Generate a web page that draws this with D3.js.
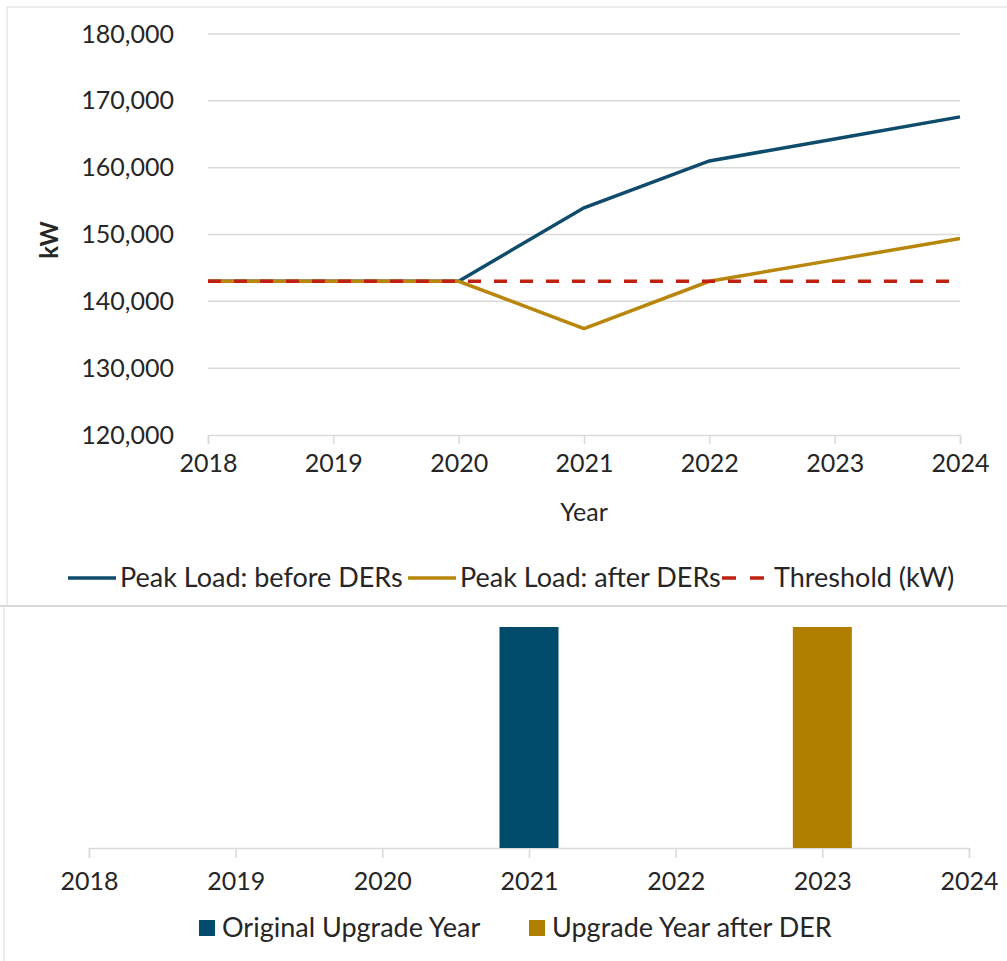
<!DOCTYPE html>
<html>
<head>
<meta charset="utf-8">
<script src="https://cdn.jsdelivr.net/npm/d3@7"></script>
<style>
  body { margin: 0; background: #fff; }
  text { font-family: Lato, "Open Sans", sans-serif; fill: #262626; }
</style>
</head>
<body>
<div id="chart"></div>
<script>
// data
var years = [2018, 2019, 2020, 2021, 2022, 2023, 2024];
var beforeDER = [143000, 143000, 143000, 154000, 161000, 164300, 167600];
var afterDER = [143000, 143000, 143000, 135900, 143000, 146200, 149400];
var threshold = [143000, 143000, 143000, 143000, 143000, 143000, 143000];
var yTicks = [120000, 130000, 140000, 150000, 160000, 170000, 180000];
var upgradeOriginal = [0, 0, 0, 1, 0, 0, 0];
var upgradeAfter = [0, 0, 0, 0, 0, 1, 0];

var width = 1007, height = 961;
var blue = '#0f4c6c', gold = '#b8860b', red = '#c0200f';
var barBlue = '#004b6b', barGold = '#b07f00';

var svg = d3.select('#chart').append('svg')
  .attr('width', width).attr('height', height);

// frame lines
svg.append('line').attr('x1', 7).attr('x2', 7).attr('y1', 7).attr('y2', 605)
  .attr('stroke', '#d9d9d9');
svg.append('line').attr('x1', 7).attr('x2', width).attr('y1', 7).attr('y2', 7)
  .attr('stroke', '#d9d9d9');
svg.append('line').attr('x1', 0).attr('x2', width).attr('y1', 606).attr('y2', 606)
  .attr('stroke', '#d9d9d9').attr('stroke-width', 2);
svg.append('line').attr('x1', 4).attr('x2', 4).attr('y1', 606).attr('y2', height)
  .attr('stroke', '#d9d9d9');

// ---- top line chart ----
var x = d3.scaleLinear().domain([2018, 2024]).range([208, 960]);
var y = d3.scaleLinear().domain([120000, 180000]).range([435, 34]);

// gridlines
svg.append('g').selectAll('line')
  .data(yTicks.slice(1))
  .enter().append('line')
  .attr('x1', 208).attr('x2', 960)
  .attr('y1', function(d) { return y(d); })
  .attr('y2', function(d) { return y(d); })
  .attr('stroke', '#d9d9d9').attr('stroke-width', 1.5);

var yAxis = svg.append('g')
  .attr('transform', 'translate(208,0)')
  .call(d3.axisLeft(y).tickValues(yTicks).tickSize(0).tickPadding(34)
    .tickFormat(d3.format(',')));
yAxis.select('.domain').remove();
yAxis.selectAll('text').style('font-size', '25px').attr('fill', '#262626');

var xAxis = svg.append('g')
  .attr('transform', 'translate(0,435)')
  .call(d3.axisBottom(x).tickValues(years).tickSize(9).tickPadding(10)
    .tickFormat(d3.format('d')));
xAxis.select('.domain').attr('stroke', '#d9d9d9').attr('stroke-width', 1.5);
xAxis.selectAll('line').attr('stroke', '#d9d9d9').attr('stroke-width', 1.5);
xAxis.selectAll('text').style('font-size', '25px').attr('fill', '#262626');

svg.append('text').attr('x', 584).attr('y', 521)
  .attr('text-anchor', 'middle').style('font-size', '25px').text('Year');
svg.append('text')
  .attr('transform', 'translate(58,240) rotate(-90)')
  .attr('text-anchor', 'middle').style('font-size', '24px')
  .style('font-weight', 'bold').text('kW');

var line = d3.line()
  .x(function(d, i) { return x(years[i]); })
  .y(function(d) { return y(d); });

svg.append('path').datum(beforeDER).attr('d', line)
  .attr('fill', 'none').attr('stroke', blue).attr('stroke-width', 3.5);
svg.append('path').datum(afterDER).attr('d', line)
  .attr('fill', 'none').attr('stroke', gold).attr('stroke-width', 3.5);
svg.append('path').datum(threshold).attr('d', line)
  .attr('fill', 'none').attr('stroke', red).attr('stroke-width', 3.5)
  .attr('stroke-dasharray', '13,13');

// legend top
var legend1 = [
  { label: 'Peak Load: before DERs', color: blue, dash: null, x: 68 },
  { label: 'Peak Load: after DERs', color: gold, dash: null, x: 408 },
  { label: 'Threshold (kW)', color: red, dash: '14,14', x: 722 }
];
var lg1 = svg.selectAll('.legend1').data(legend1).enter().append('g')
  .attr('class', 'legend1')
  .attr('transform', function(d) { return 'translate(' + d.x + ',578)'; });
lg1.append('line').attr('x1', 0).attr('x2', 48).attr('y1', 0).attr('y2', 0)
  .attr('stroke', function(d) { return d.color; }).attr('stroke-width', 3.5)
  .attr('stroke-dasharray', function(d) { return d.dash; });
lg1.append('text').attr('x', 52).attr('y', 9)
  .style('font-size', '27px').text(function(d) { return d.label; });

// ---- bottom bar chart ----
var xb = d3.scaleLinear().domain([2018, 2024]).range([89, 969]);
var yb = d3.scaleLinear().domain([0, 1]).range([848, 627]);
var barW = 59;

var xbAxis = svg.append('g')
  .attr('transform', 'translate(0,848)')
  .call(d3.axisBottom(xb).tickValues(years).tickSize(10).tickPadding(14)
    .tickFormat(d3.format('d')));
xbAxis.select('.domain').attr('stroke', '#d9d9d9').attr('stroke-width', 1.5);
xbAxis.selectAll('line').attr('stroke', '#d9d9d9').attr('stroke-width', 1.5);
xbAxis.selectAll('text').style('font-size', '25px').attr('fill', '#262626');

svg.append('g').selectAll('rect')
  .data(upgradeOriginal).enter().append('rect')
  .attr('x', function(d, i) { return xb(years[i]) - barW / 2; })
  .attr('y', function(d) { return yb(d); })
  .attr('width', barW)
  .attr('height', function(d) { return yb(0) - yb(d); })
  .attr('fill', barBlue);
svg.append('g').selectAll('rect')
  .data(upgradeAfter).enter().append('rect')
  .attr('x', function(d, i) { return xb(years[i]) - barW / 2; })
  .attr('y', function(d) { return yb(d); })
  .attr('width', barW)
  .attr('height', function(d) { return yb(0) - yb(d); })
  .attr('fill', barGold);

var legend2 = [
  { label: 'Original Upgrade Year', color: barBlue, x: 199 },
  { label: 'Upgrade Year after DER', color: barGold, x: 529 }
];
var lg2 = svg.selectAll('.legend2').data(legend2).enter().append('g')
  .attr('class', 'legend2')
  .attr('transform', function(d) { return 'translate(' + d.x + ',928)'; });
lg2.append('rect').attr('x', 0).attr('y', -8).attr('width', 16).attr('height', 16)
  .attr('fill', function(d) { return d.color; });
lg2.append('text').attr('x', 23).attr('y', 9)
  .style('font-size', '27px').text(function(d) { return d.label; });
</script>
</body>
</html>
